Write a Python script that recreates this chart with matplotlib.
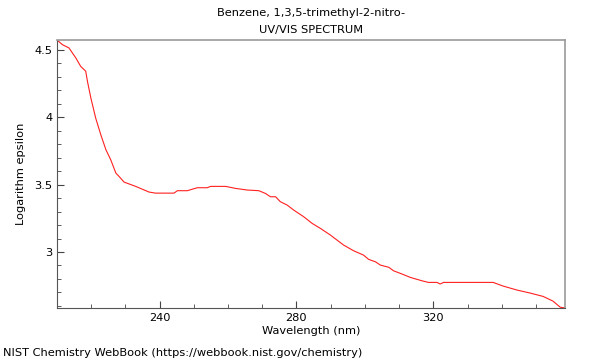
import matplotlib
matplotlib.use("Agg")
import matplotlib.pyplot as plt
from matplotlib.ticker import MultipleLocator, FuncFormatter

wavelength = [210.0, 211.6, 213.5, 215.5, 216.9, 218.4, 218.9, 219.9, 221.3, 222.8,
              224.3, 225.7, 227.2, 228.1, 229.6, 233.0, 236.9, 238.8, 244.2, 245.2,
              248.1, 251.0, 253.9, 254.9, 259.3, 262.2, 265.6, 269.0, 270.9, 272.4,
              273.9, 275.3, 277.3, 279.2, 282.1, 284.6, 287.0, 289.9, 293.8, 296.7,
              299.6, 301.1, 303.1, 304.5, 307.0, 308.4, 310.9, 313.3, 316.7, 318.6,
              321.1, 322.0, 323.0, 337.5, 340.4, 344.5, 348.3, 352.1, 355.0, 357.1,
              358.5]
log_eps = [4.574, 4.539, 4.515, 4.441, 4.379, 4.342, 4.267, 4.143, 3.995, 3.871,
           3.759, 3.685, 3.586, 3.562, 3.519, 3.487, 3.445, 3.437, 3.437, 3.455,
           3.455, 3.477, 3.477, 3.487, 3.487, 3.472, 3.460, 3.455, 3.435, 3.410,
           3.410, 3.373, 3.348, 3.311, 3.262, 3.212, 3.175, 3.126, 3.051, 3.009,
           2.977, 2.945, 2.927, 2.903, 2.886, 2.860, 2.836, 2.811, 2.786, 2.774,
           2.774, 2.762, 2.774, 2.774, 2.747, 2.717, 2.695, 2.670, 2.635, 2.590,
           2.584]

title_lines = ["Benzene, 1,3,5-trimethyl-2-nitro-", "UV/VIS SPECTRUM"]
FS = 8.2

fig = plt.figure(figsize=(6, 3.6), dpi=100)
ax = fig.add_axes([57/600, 1 - 308/360, (565-57)/600, (308-40)/360])
ax.plot(wavelength, log_eps, color="#ff2020", lw=0.8)
ax.set_xlim(min(wavelength), max(wavelength))
ax.set_ylim(min(log_eps), max(log_eps))

ax.xaxis.set_major_locator(MultipleLocator(40))
ax.xaxis.set_minor_locator(MultipleLocator(10))
ax.yaxis.set_major_locator(MultipleLocator(0.5))
ax.yaxis.set_minor_locator(MultipleLocator(0.1))
ax.xaxis.set_major_formatter(FuncFormatter(lambda v, p: f"{v:g}"))
ax.yaxis.set_major_formatter(FuncFormatter(lambda v, p: f"{v:g}"))
ax.tick_params(which="both", direction="in", labelsize=FS, color="#444444")
ax.tick_params(which="major", length=5)
ax.tick_params(which="minor", length=3)
for s in ["left", "bottom"]:
    ax.spines[s].set_color("#555555")
for s in ["top", "right"]:
    ax.spines[s].set_color("#999999")
    ax.spines[s].set_linewidth(1.2)

ax.set_xlabel("Wavelength (nm)", fontsize=FS, labelpad=2)
ax.set_ylabel("Logarithm epsilon", fontsize=FS, labelpad=6)
fig.text(311/600, 1 - 13/360, title_lines[0], ha="center", va="center", fontsize=FS)
fig.text(311/600, 1 - 30/360, title_lines[1], ha="center", va="center", fontsize=FS)
fig.text(3/600, 1 - 353/360, "NIST Chemistry WebBook (https://webbook.nist.gov/chemistry)",
         ha="left", va="center", fontsize=FS)
fig.savefig("out.png", dpi=100)
